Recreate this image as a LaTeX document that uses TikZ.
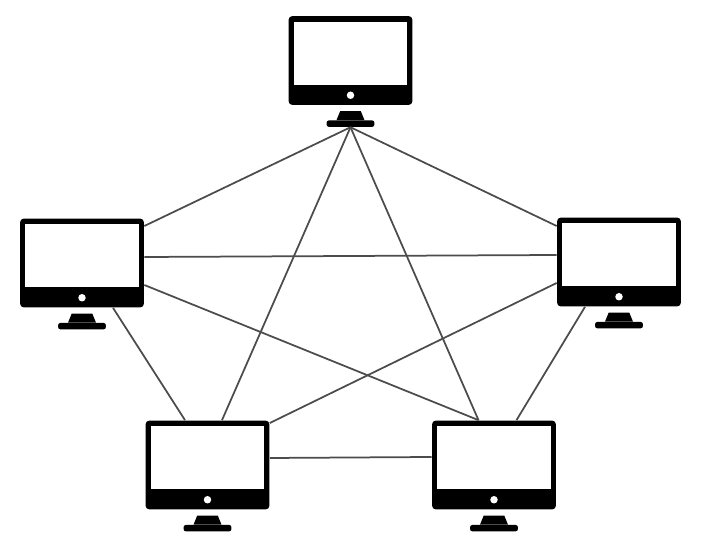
\documentclass[tikz,border=0pt]{standalone}
\usepackage{tikz}
\usetikzlibrary{shapes.geometric,positioning}
\tikzset{
	monitor/.style = {fill = black, rounded corners = 0.08 cm, inner sep = 0, minimum width = 2.48 cm, minimum height = 1.78 cm},
	screen/.style = {fill = white, inner sep = 0, minimum width = 2.28 cm, minimum height = 1.26 cm},
	lamp/.style = {circle, fill = white, inner sep = 0, minimum size = 0.15 cm},
	neck/.style = {trapezium, trapezium left angle = 80, trapezium right angle = 80, trapezium stretches = true, fill = black, inner sep = 0.02 cm, minimum width = 0.56 cm, minimum height = 0.18 cm},
	foot/.style = {fill = black, rounded corners = 0.05 cm, inner sep = 0, minimum width = 0.96 cm, minimum height = 0.13 cm},
	link/.style = {color = black!70, line width = 0.035 cm}
}
\begin{document}
\begin{tikzpicture}[x = 0.02 cm, y = -0.02 cm]
\useasboundingbox (0,0) rectangle (718,546);
\foreach \n/\x/\y in {top/350.5/60.5, lft/82/263, rgt/619/262, bl/207.5/465, br/494/465}
{
\node [monitor] (\n) at (\x,\y) {};
\node [screen, below = 0.12 cm of \n.north] (\n-screen) {};
\node [lamp, above = 0.12 cm of \n.south] (\n-lamp) {};
\node [neck, below = 0.11 cm of \n.south] (\n-neck) {};
\node [foot, below = -0.01 cm of \n-neck.south] (\n-foot) {};
}
\draw [link] (top-foot.south) -- ([yshift = 0.74 cm]lft.east);
\draw [link] (top-foot.south) -- ([yshift = 0.72 cm]rgt.west);
\draw [link] (top-foot.south) -- ([xshift = 0.29 cm]bl.north);
\draw [link] (top-foot.south) -- ([xshift = -0.31 cm]br.north);
\draw [link] ([yshift = 0.12 cm]lft.east) -- ([yshift = 0.14 cm]rgt.west);
\draw [link] ([yshift = -0.44 cm]lft.east) -- ([xshift = -0.31 cm]br.north);
\draw [link] ([yshift = -0.42 cm]rgt.west) -- ([yshift = 0.84 cm]bl.east);
\draw [link] ([xshift = 0.62 cm]lft.south) -- ([xshift = -0.45 cm]bl.north);
\draw [link] ([xshift = -0.68 cm]rgt.south) -- ([xshift = 0.45 cm]br.north);
\draw [link] ([yshift = 0.14 cm]bl.east) -- ([yshift = 0.16 cm]br.west);
\end{tikzpicture}
\end{document}
